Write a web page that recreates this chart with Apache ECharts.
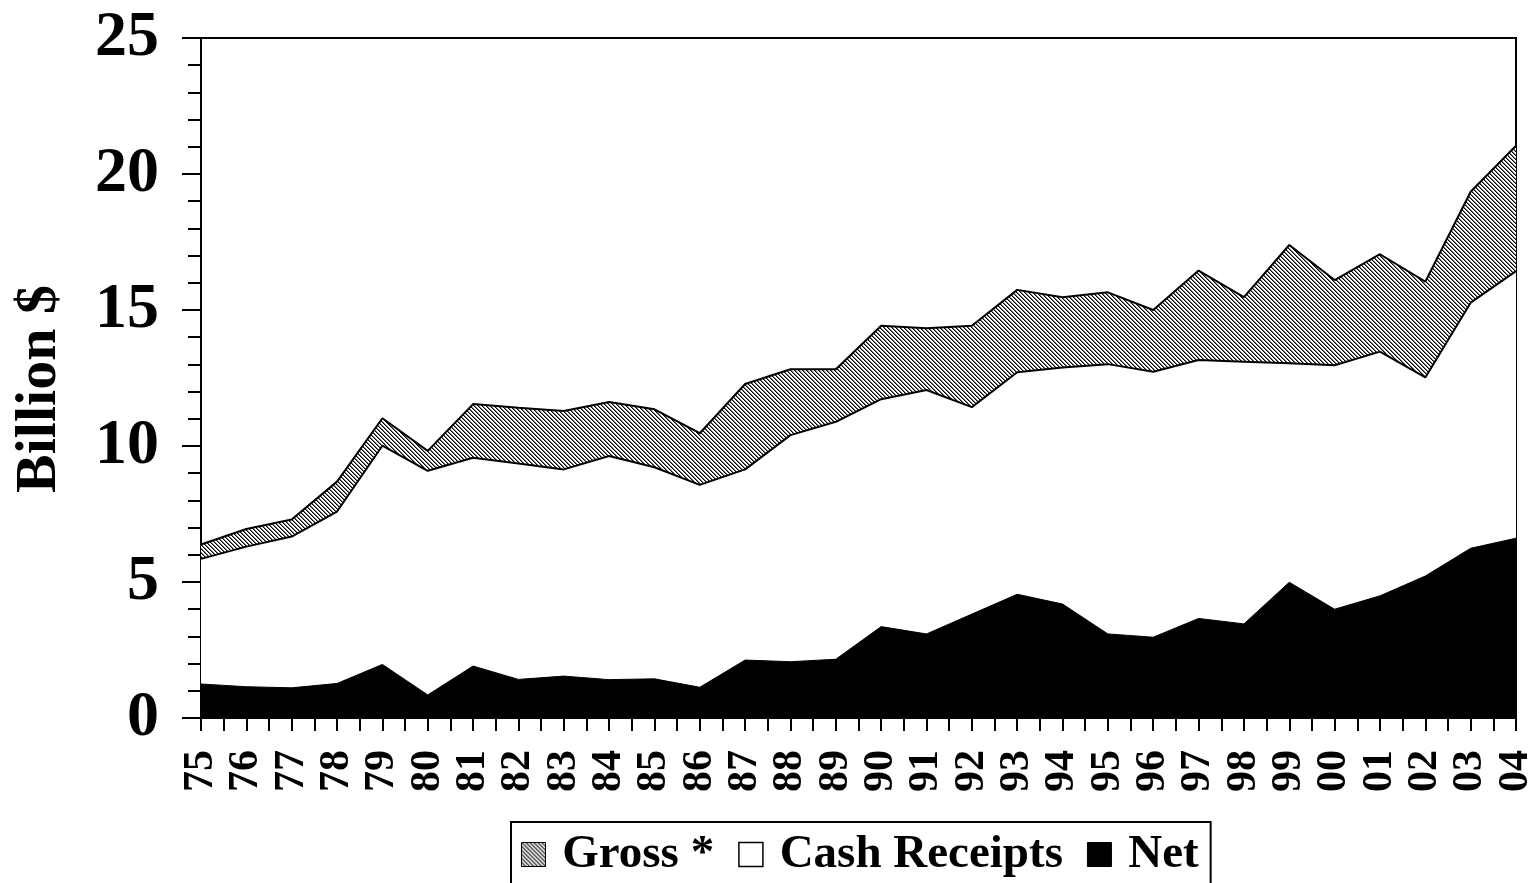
<!DOCTYPE html>
<html>
<head>
<meta charset="utf-8">
<script src="https://cdn.jsdelivr.net/npm/echarts@6/dist/echarts.min.js"></script>
<style>
html,body{margin:0;padding:0;background:#fff;}
#chart{width:1537px;height:883px;}
</style>
</head>
<body>
<div id="chart"></div>
<script>
// Data
const years = ['75','76','77','78','79','80','81','82','83','84','85','86','87','88','89','90','91','92','93','94','95','96','97','98','99','00','01','02','03','04'];
const gross = [6.38, 6.95, 7.30, 8.69, 11.02, 9.82, 11.54, 11.41, 11.29, 11.62, 11.35, 10.47, 12.28, 12.82, 12.82, 14.42, 14.33, 14.42, 15.74, 15.47, 15.65, 15.00, 16.45, 15.47, 17.39, 16.10, 17.05, 16.04, 19.35, 21.04];
const cashReceipts = [5.85, 6.30, 6.67, 7.59, 10.01, 9.09, 9.57, 9.36, 9.14, 9.63, 9.22, 8.57, 9.14, 10.40, 10.89, 11.72, 12.06, 11.43, 12.71, 12.89, 13.01, 12.73, 13.16, 13.10, 13.04, 12.97, 13.47, 12.52, 15.27, 16.43];
const net = [1.25, 1.15, 1.11, 1.27, 1.97, 0.85, 1.91, 1.42, 1.54, 1.41, 1.44, 1.13, 2.13, 2.07, 2.16, 3.36, 3.09, 3.82, 4.55, 4.19, 3.09, 2.97, 3.66, 3.46, 4.99, 4.00, 4.49, 5.22, 6.24, 6.61];
const seriesNames = ['Gross *', 'Cash Receipts', 'Net'];
const yTicks = {min: 0, max: 25, interval: 5};
const yAxisName = 'Billion $';

// Hatch pattern (style only)
function makeHatch() {
  const c = document.createElement('canvas');
  c.width = 4; c.height = 4;
  const ctx = c.getContext('2d');
  ctx.fillStyle = '#fff';
  ctx.fillRect(0, 0, 4, 4);
  for (let i = 0; i < 4; i++) {
    ctx.fillStyle = '#000';
    ctx.fillRect(i, i, 1, 1);
    ctx.fillStyle = '#777';
    ctx.fillRect((i + 1) % 4, i, 1, 1);
  }
  return {image: c, repeat: 'repeat'};
}
const hatch = makeHatch();

const FONT = 'Liberation Serif';
const chart = echarts.init(document.getElementById('chart'), null, {renderer: 'canvas'});
chart.setOption({
  animation: false,
  backgroundColor: '#fff',
  grid: {left: 201, right: 17, top: 38, bottom: 165, show: true, borderColor: '#000', borderWidth: 2, backgroundColor: 'transparent'},
  legend: {
    left: 511, top: 822,
    data: [
      {name: seriesNames[0], icon: 'rect', itemStyle: {color: hatch, borderColor: '#000', borderWidth: 1}},
      {name: seriesNames[1], icon: 'rect', itemStyle: {color: '#fff', borderColor: '#000', borderWidth: 1.5}},
      {name: seriesNames[2], icon: 'rect', itemStyle: {color: '#000', borderColor: '#000', borderWidth: 1}}
    ],
    formatter: n => ' ' + n,
    itemWidth: 24, itemHeight: 24, itemGap: 24,
    padding: [9, 12, 14, 10],
    borderColor: '#000', borderWidth: 2,
    textStyle: {fontFamily: FONT, fontWeight: 'bold', fontSize: 47, color: '#000'}
  },
  xAxis: [{
    type: 'category', data: years, boundaryGap: false,
    axisLine: {lineStyle: {color: '#000', width: 2}},
    axisTick: {show: true, length: 13, interval: 0, lineStyle: {color: '#000', width: 2}},
    axisLabel: {rotate: 90, interval: 0, margin: 32, fontFamily: FONT, fontWeight: 'bold', fontSize: 42, color: '#000'},
    splitLine: {show: false}
  }, {
    type: 'value', min: 0, max: years.length - 1, interval: 0.5, position: 'bottom',
    axisLine: {show: false},
    axisTick: {show: true, length: 13, lineStyle: {color: '#000', width: 2}},
    axisLabel: {show: false}, splitLine: {show: false}
  }],
  yAxis: {
    type: 'value', min: yTicks.min, max: yTicks.max, interval: yTicks.interval,
    name: yAxisName, nameLocation: 'middle', nameRotate: 90, nameGap: 132,
    nameTextStyle: {fontFamily: FONT, fontWeight: 'bold', fontSize: 58, color: '#000', padding: [0, 22, 0, 0]},
    axisLine: {show: true, lineStyle: {color: '#000', width: 2}},
    axisTick: {show: true, length: 19, lineStyle: {color: '#000', width: 2}},
    minorTick: {show: true, splitNumber: 5, length: 13, lineStyle: {color: '#000', width: 2}},
    axisLabel: {margin: 42, fontFamily: FONT, fontWeight: 'bold', fontSize: 64, color: '#000'},
    splitLine: {show: false}
  },
  series: [
    {name: seriesNames[0], type: 'line', data: gross, symbol: 'none', xAxisIndex: 0,
     lineStyle: {color: '#000', width: 2}, itemStyle: {color: '#000'},
     areaStyle: {color: hatch, opacity: 1}},
    {name: seriesNames[1], type: 'line', data: cashReceipts, symbol: 'none', xAxisIndex: 0,
     lineStyle: {color: '#000', width: 2}, itemStyle: {color: '#fff'},
     areaStyle: {color: '#fff', opacity: 1}},
    {name: seriesNames[2], type: 'line', data: net, symbol: 'none', xAxisIndex: 0,
     lineStyle: {color: '#000', width: 1}, itemStyle: {color: '#000'},
     areaStyle: {color: '#000', opacity: 1}}
  ]
});
</script>
</body>
</html>
